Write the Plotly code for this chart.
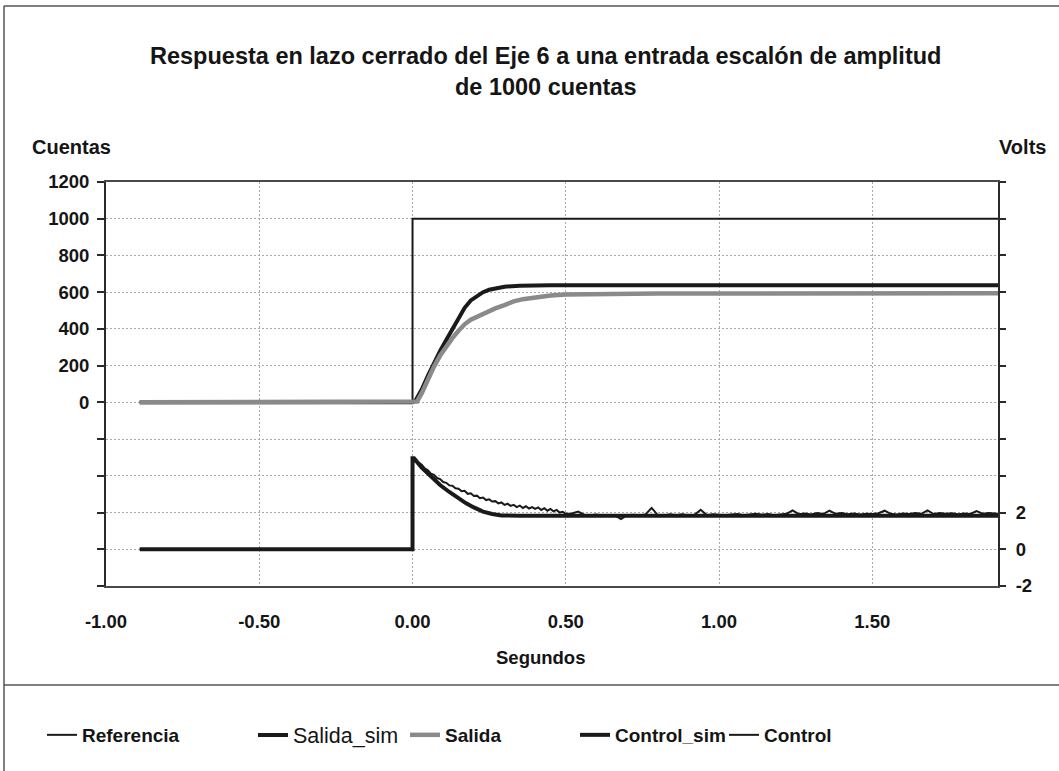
import plotly.graph_objects as go

# ---- data -------------------------------------------------------------
# Reference step (cuentas)
ref_t = [-0.89, 0.0, 1.91]
ref_y = [0, 1000, 1000]

# Simulated output (cuentas)
sal_sim_t = [-0.89, 0.0, 0.01, 0.03, 0.05, 0.07, 0.09, 0.11, 0.13, 0.15, 0.17,
             0.19, 0.21, 0.23, 0.25, 0.27, 0.30, 0.35, 0.45, 1.91]
sal_sim_y = [0, 0, 10, 70, 145, 215, 280, 340, 400, 460, 515,
             555, 580, 600, 613, 622, 630, 635, 638, 638]

# Measured output (cuentas)
sal_t = [-0.89, 0.0, 0.015, 0.03, 0.05, 0.07, 0.09, 0.11, 0.13, 0.15, 0.17,
         0.19, 0.21, 0.23, 0.25, 0.27, 0.30, 0.33, 0.36, 0.40, 0.45, 0.50,
         0.60, 0.80, 1.91]
sal_y = [0, 0, 5, 50, 125, 195, 255, 305, 350, 390, 425,
         450, 465, 485, 500, 512, 530, 550, 562, 573, 582, 587,
         591, 593, 594]

# Simulated control signal (volts)
ctl_sim_t = [-0.89, 0.0, 0.0, 0.005, 0.03, 0.06, 0.09, 0.12, 0.15, 0.175,
             0.20, 0.23, 0.26, 0.29, 0.35, 1.91]
ctl_sim_y = [0, 0, 4.95, 4.95, 4.45, 3.96, 3.50, 3.12, 2.78, 2.50,
             2.28, 2.05, 1.92, 1.84, 1.83, 1.83]

# Measured control signal (volts)
ctl_t = [-0.89, 0.0, 0.0, 0.01, 0.02, 0.03, 0.04, 0.05, 0.06, 0.07, 0.08,
         0.09, 0.10, 0.11, 0.12, 0.13, 0.14, 0.15, 0.16, 0.17, 0.18,
         0.19, 0.20, 0.21, 0.22, 0.23, 0.24, 0.25, 0.26, 0.27, 0.28,
         0.29, 0.30, 0.31, 0.32, 0.33, 0.34, 0.35, 0.36, 0.37, 0.38,
         0.39, 0.40, 0.41, 0.42, 0.43, 0.44, 0.45, 0.46, 0.47, 0.48,
         0.49, 0.50, 0.52, 0.54, 0.56, 0.58, 0.60, 0.62, 0.64, 0.66,
         0.68, 0.70, 0.72, 0.74, 0.76, 0.78, 0.80, 0.82, 0.84, 0.86,
         0.88, 0.90, 0.92, 0.94, 0.96, 0.98, 1.00, 1.02, 1.04, 1.06,
         1.08, 1.10, 1.12, 1.14, 1.16, 1.18, 1.20, 1.22, 1.24, 1.26,
         1.28, 1.30, 1.32, 1.34, 1.36, 1.38, 1.40, 1.42, 1.44, 1.46,
         1.48, 1.50, 1.52, 1.54, 1.56, 1.58, 1.60, 1.62, 1.64, 1.66,
         1.68, 1.70, 1.72, 1.74, 1.76, 1.78, 1.80, 1.82, 1.84, 1.86,
         1.88, 1.91]
ctl_y = [0, 0, 4.95, 4.88, 4.72, 4.60, 4.40, 4.30, 4.12, 4.05, 3.88,
         3.82, 3.66, 3.62, 3.48, 3.46, 3.32, 3.30, 3.16, 3.18, 3.02,
         3.05, 2.90, 2.92, 2.78, 2.82, 2.68, 2.72, 2.60, 2.62, 2.50,
         2.55, 2.42, 2.48, 2.36, 2.42, 2.30, 2.38, 2.25, 2.34, 2.22,
         2.30, 2.20, 2.28, 2.14, 2.24, 2.10, 2.20, 2.06, 2.14, 2.00,
         2.04, 1.93, 1.95, 2.05, 1.88, 1.85, 1.89, 1.82, 1.86, 1.84,
         1.64, 1.86, 1.88, 1.84, 1.90, 2.25, 1.86, 1.84, 1.90, 1.86,
         1.91, 1.84, 1.88, 2.15, 1.86, 1.91, 1.88, 1.85, 1.90, 1.92,
         1.85, 1.90, 1.94, 1.88, 1.92, 1.86, 1.90, 1.93, 2.12, 1.91,
         1.95, 1.90, 1.97, 1.92, 2.10, 1.93, 1.97, 1.91, 1.95, 1.90,
         1.94, 1.92, 1.96, 2.10, 1.93, 1.90, 1.95, 1.92, 1.97, 1.93,
         2.12, 1.92, 1.97, 1.93, 1.96, 1.91, 1.95, 1.92, 2.08, 1.94,
         1.97, 1.93]

# Axis ticks
x_ticks = [-1.0, -0.5, 0.0, 0.5, 1.0, 1.5]
x_text = ["-1.00", "-0.50", "0.00", "0.50", "1.00", "1.50"]
left_ticks = list(range(-1000, 1201, 200))
left_text = [str(v) if v >= 0 else "" for v in left_ticks]
right_ticks = list(range(-2, 21, 2))
right_text = [str(v) if v <= 2 else "" for v in right_ticks]

# ---- layout helpers ---------------------------------------------------
W, H = 1059, 771
L, R, T, B = 106, 61, 182, 185
PW, PH = W - L - R, H - T - B


def px(x):
    return (x - L) / PW


def py(y):
    return (H - B - y) / PH


FONT = "Liberation Sans, Arial, sans-serif"
INK = "#151515"
DARK = "#1a1a1a"
GREY = "#8a8a8a"
GRID = "#a8a8a8"

fig = go.Figure()

fig.add_trace(go.Scatter(x=ref_t, y=ref_y, name="Referencia", mode="lines",
                         line=dict(color=DARK, width=2, shape="hv"),
                         legend="legend"))
fig.add_trace(go.Scatter(x=sal_sim_t, y=sal_sim_y, name="Salida_sim", mode="lines",
                         line=dict(color=DARK, width=4), legend="legend2"))
fig.add_trace(go.Scatter(x=sal_t, y=sal_y, name="Salida", mode="lines",
                         line=dict(color=GREY, width=4.5), legend="legend3"))
fig.add_trace(go.Scatter(x=ctl_sim_t, y=ctl_sim_y, name="Control_sim", mode="lines",
                         line=dict(color=DARK, width=4), yaxis="y2",
                         legend="legend4"))
fig.add_trace(go.Scatter(x=ctl_t, y=ctl_y, name="Control", mode="lines",
                         line=dict(color=DARK, width=2), yaxis="y2",
                         legend="legend5"))

tickfont = dict(family=FONT, size=18.5, color=INK, weight="bold")

fig.update_layout(
    width=W, height=H,
    margin=dict(l=L, r=R, t=T, b=B),
    paper_bgcolor="white", plot_bgcolor="white",
    showlegend=True,
    xaxis=dict(range=[-1.0, 1.91], tickvals=x_ticks, ticktext=x_text,
               showgrid=True, gridcolor=GRID, griddash="2px,2px", gridwidth=1,
               showline=True, mirror=True, linecolor="#4a4a4a", linewidth=1.5,
               ticks="", zeroline=False, tickfont=tickfont,
               ticklabelstandoff=18),
    xaxis2=dict(range=[-1.0, 1.91], overlaying="x", anchor="free",
                position=1000 / 2200, tickvals=x_ticks, showticklabels=False,
                showgrid=False, zeroline=False, showline=True,
                linecolor="#2a2a2a", linewidth=1.5, ticks="outside",
                ticklen=5, tickcolor="#2a2a2a", tickwidth=1.5),
    yaxis=dict(range=[-1000, 1200], tickvals=left_ticks, ticktext=left_text,
               showgrid=True, gridcolor=GRID, griddash="2px,2px", gridwidth=1,
               showline=True, linecolor="#2a2a2a", linewidth=2,
               ticks="outside", ticklen=7, tickcolor="#2a2a2a", tickwidth=1.5,
               zeroline=False, tickfont=tickfont, ticklabelstandoff=4),
    yaxis2=dict(range=[-2, 20], tickvals=right_ticks, ticktext=right_text,
                overlaying="y", side="right", showgrid=False, zeroline=False,
                showline=True, linecolor="#2a2a2a", linewidth=2,
                ticks="outside", ticklen=6, tickcolor="#2a2a2a", tickwidth=1.5,
                tickfont=tickfont, ticklabelstandoff=6),
)

# One legend box per series so each entry sits at its own place
leg_y = py(735)
legend_x = [42, 253, 405, 575, 724]
for i, lx in enumerate(legend_x):
    key = "legend" if i == 0 else f"legend{i + 1}"
    if i == 1:
        font = dict(family=FONT, size=21.5, color=INK, weight="normal")
    else:
        font = dict(family=FONT, size=19, color=INK, weight="bold")
    fig.update_layout({key: dict(x=px(lx), y=leg_y, xanchor="left",
                                 yanchor="middle", orientation="h",
                                 bgcolor="rgba(0,0,0,0)", borderwidth=0,
                                 font=font, itemwidth=30)})

# Title and axis titles
fig.add_annotation(text="Respuesta en lazo cerrado del Eje 6 a una entrada escalón de amplitud<br>de 1000 cuentas",
                   xref="paper", yref="paper", x=px(545), y=py(72),
                   xanchor="center", yanchor="middle", showarrow=False,
                   font=dict(family=FONT, size=23.5, color=INK, weight="bold"))
fig.add_annotation(text="Cuentas", xref="paper", yref="paper",
                   x=px(71), y=py(147), xanchor="center", yanchor="middle",
                   showarrow=False,
                   font=dict(family=FONT, size=20, color=INK, weight="bold"))
fig.add_annotation(text="Volts", xref="paper", yref="paper",
                   x=px(1022), y=py(147), xanchor="center", yanchor="middle",
                   showarrow=False,
                   font=dict(family=FONT, size=20, color=INK, weight="bold"))
fig.add_annotation(text="Segundos", xref="paper", yref="paper",
                   x=px(540), y=py(657), xanchor="center", yanchor="middle",
                   showarrow=False,
                   font=dict(family=FONT, size=18.5, color=INK, weight="bold"))

# Chart frame: top and left edges plus the rule above the legend
fig.add_shape(type="line", xref="paper", yref="paper",
              x0=px(4), x1=px(1059), y0=py(6), y1=py(6),
              line=dict(color="#555555", width=1.5))
fig.add_shape(type="line", xref="paper", yref="paper",
              x0=px(4), x1=px(4), y0=py(6), y1=py(771),
              line=dict(color="#555555", width=1.5))
fig.add_shape(type="line", xref="paper", yref="paper",
              x0=px(4), x1=px(1059), y0=py(685), y1=py(685),
              line=dict(color="#555555", width=1.5))

fig.write_html("out.html")
